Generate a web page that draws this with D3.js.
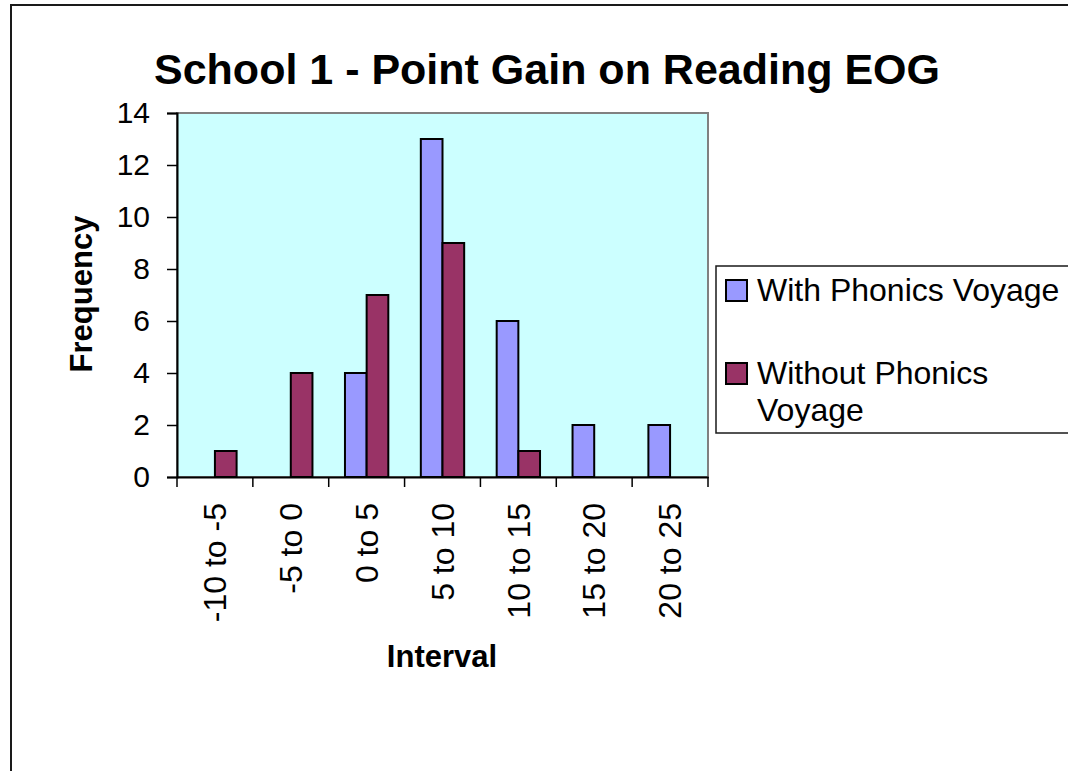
<!DOCTYPE html>
<html lang="en">
<head>
    <meta charset="UTF-8">
    <title>School 1 - Point Gain on Reading EOG</title>
    <script src="https://d3js.org/d3.v7.min.js"></script>
    <style>
        body {
            margin: 0;
            padding: 0;
            background: #fff;
            font-family: "Liberation Sans", Arial, sans-serif;
        }
        svg { display: block; }
    </style>
</head>
<body>
    <svg id="chart"></svg>

    <script>
        // Data
        const categories = ["-10 to -5", "-5 to 0", "0 to 5", "5 to 10", "10 to 15", "15 to 20", "20 to 25"];
        const withPhonics = [0, 0, 4, 13, 6, 2, 2];
        const withoutPhonics = [1, 4, 7, 9, 1, 0, 0];
        const seriesNames = ["With Phonics Voyage", "Without Phonics Voyage"];
        const yTicks = [0, 2, 4, 6, 8, 10, 12, 14];

        const W = 1068, H = 771;
        const plot = { left: 177, top: 113, right: 708, bottom: 477 };
        const colors = ["#9999FF", "#993366"];

        const svg = d3.select("#chart")
            .attr("width", W)
            .attr("height", H);

        // outer chart frame (runs off the right and bottom edges)
        svg.append("rect")
            .attr("x", 11).attr("y", 5)
            .attr("width", W + 20).attr("height", H + 20)
            .attr("fill", "#fff")
            .attr("stroke", "#1a1a1a")
            .attr("stroke-width", 2);

        // Title
        svg.append("text")
            .attr("x", 547).attr("y", 84)
            .attr("text-anchor", "middle")
            .style("font-size", "43px")
            .style("font-weight", "bold")
            .text("School 1 - Point Gain on Reading EOG");

        // Scales
        const x = d3.scaleBand()
            .domain(categories)
            .range([plot.left, plot.right])
            .padding(0);

        const xInner = d3.scaleBand()
            .domain(d3.range(seriesNames.length))
            .range([0, x.bandwidth()])
            .paddingInner(0)
            .paddingOuter(0.75);

        const y = d3.scaleLinear()
            .domain([0, 14])
            .range([plot.bottom, plot.top]);

        // Plot area background
        svg.append("rect")
            .attr("x", plot.left).attr("y", plot.top)
            .attr("width", plot.right - plot.left)
            .attr("height", plot.bottom - plot.top)
            .attr("fill", "#CCFFFF")
            .attr("stroke", "#808080")
            .attr("stroke-width", 2);

        // Bars
        const rows = categories.map((c, i) => ({ cat: c, values: [withPhonics[i], withoutPhonics[i]] }));
        svg.append("g")
            .selectAll("g")
            .data(rows)
            .join("g")
            .attr("transform", d => `translate(${x(d.cat)},0)`)
            .selectAll("rect")
            .data(d => d.values.map((v, k) => ({ k, v })).filter(e => e.v > 0))
            .join("rect")
            .attr("x", d => xInner(d.k))
            .attr("y", d => y(d.v))
            .attr("width", xInner.bandwidth())
            .attr("height", d => y(0) - y(d.v))
            .attr("fill", d => colors[d.k])
            .attr("stroke", "#000")
            .attr("stroke-width", 2);

        // Y axis
        const yAxis = svg.append("g")
            .attr("transform", `translate(${plot.left},0)`)
            .call(d3.axisLeft(y).tickValues(yTicks).tickSize(10).tickPadding(17));
        yAxis.select(".domain").attr("stroke", "#000").attr("stroke-width", 2);
        yAxis.selectAll(".tick line").attr("stroke", "#000").attr("stroke-width", 1.5);
        yAxis.selectAll(".tick text")
            .style("font-size", "30px")
            .style("font-family", "'Liberation Sans', Arial, sans-serif")
            .attr("fill", "#000");

        // X axis
        const xAxis = svg.append("g")
            .attr("transform", `translate(0,${plot.bottom})`)
            .call(d3.axisBottom(x).tickSize(0).tickSizeOuter(0));
        xAxis.select(".domain").attr("stroke", "#000").attr("stroke-width", 2);
        xAxis.selectAll(".tick text")
            .attr("transform", "rotate(-90)")
            .attr("x", -26)
            .attr("y", 0)
            .attr("dy", "0.35em")
            .attr("text-anchor", "end")
            .style("font-size", "32px")
            .style("font-family", "'Liberation Sans', Arial, sans-serif")
            .attr("fill", "#000");

        // category boundary ticks
        const bounds = categories.map(c => x(c)).concat([plot.right]);
        svg.append("g")
            .selectAll("line")
            .data(bounds)
            .join("line")
            .attr("x1", d => d).attr("x2", d => d)
            .attr("y1", plot.bottom).attr("y2", plot.bottom + 10)
            .attr("stroke", "#000")
            .attr("stroke-width", 1.5);

        // Axis titles
        svg.append("text")
            .attr("x", 442).attr("y", 667)
            .attr("text-anchor", "middle")
            .style("font-size", "31px")
            .style("font-weight", "bold")
            .text("Interval");

        svg.append("text")
            .attr("transform", "translate(92,294) rotate(-90)")
            .attr("text-anchor", "middle")
            .style("font-size", "31px")
            .style("font-weight", "bold")
            .text("Frequency");

        // Legend
        const legend = svg.append("g");
        legend.append("rect")
            .attr("x", 716).attr("y", 266)
            .attr("width", 400).attr("height", 167)
            .attr("fill", "#fff")
            .attr("stroke", "#1a1a1a")
            .attr("stroke-width", 1.5);

        const legendItems = [
            { lines: ["With Phonics Voyage"], y: 301 },
            { lines: ["Without Phonics", "Voyage"], y: 384 }
        ];
        legendItems.forEach((item, i) => {
            legend.append("rect")
                .attr("x", 726).attr("y", item.y - 21)
                .attr("width", 21).attr("height", 21)
                .attr("fill", colors[i])
                .attr("stroke", "#000")
                .attr("stroke-width", 2);
            const t = legend.append("text")
                .attr("x", 757).attr("y", item.y)
                .style("font-size", "32px");
            item.lines.forEach((ln, j) => {
                t.append("tspan")
                    .attr("x", 757)
                    .attr("dy", j === 0 ? 0 : 37)
                    .text(ln);
            });
        });
    </script>
</body>
</html>
